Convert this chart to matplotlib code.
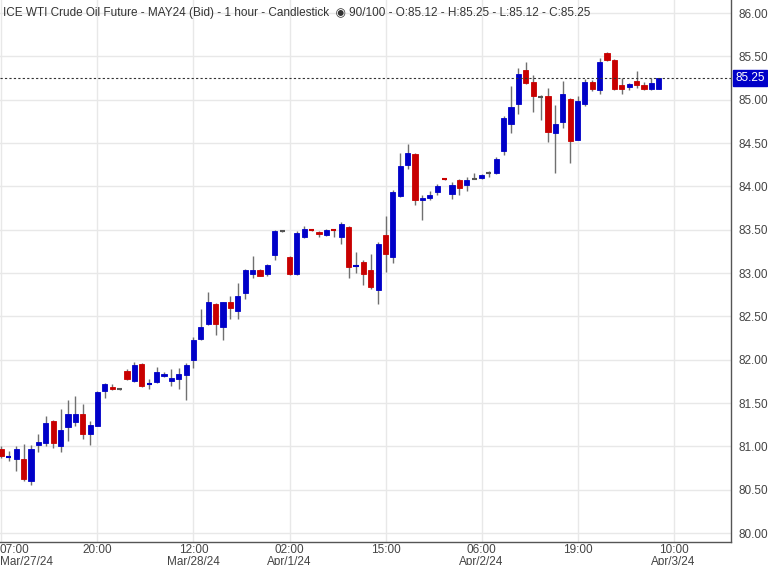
import matplotlib
matplotlib.use("Agg")
import matplotlib.pyplot as plt

plt.rcParams['font.family'] = ['Liberation Sans', 'DejaVu Sans']

opens = [80.97,80.87,80.86,80.86,80.60,81.02,81.04,81.29,81.00,81.22,81.28,81.37,81.14,81.24,81.64,81.69,81.66,81.87,81.75,81.95,81.72,81.74,81.81,81.75,81.78,81.82,82.00,82.24,82.41,82.64,82.38,82.67,82.56,82.77,82.99,83.03,82.99,83.21,83.48,83.19,82.99,83.42,83.50,83.47,83.44,83.50,83.42,83.53,83.08,83.13,83.04,82.80,83.44,83.19,83.89,84.25,84.37,83.84,83.86,83.93,84.09,83.91,84.07,84.01,84.09,84.10,84.15,84.15,84.41,84.72,84.95,85.34,85.20,85.03,85.04,84.62,84.74,85.01,84.54,84.95,85.20,85.11,85.54,85.46,85.17,85.15,85.21,85.17,85.12,85.12]
highs = [81.00,80.95,81.00,81.03,81.02,81.14,81.35,81.31,81.43,81.54,81.58,81.49,81.29,81.64,81.73,81.72,81.67,81.89,81.97,81.96,81.78,81.92,81.86,81.89,81.90,81.96,82.26,82.59,82.78,82.65,82.67,82.73,82.89,83.05,83.20,83.05,83.10,83.50,83.49,83.20,83.48,83.54,83.51,83.48,83.51,83.51,83.59,83.54,83.24,83.15,83.22,83.36,83.66,83.96,84.38,84.49,84.38,83.90,83.95,84.03,84.10,84.05,84.08,84.11,84.15,84.14,84.18,84.34,84.81,85.16,85.37,85.44,85.28,85.05,85.14,84.94,85.22,85.02,85.04,85.24,85.23,85.48,85.55,85.47,85.25,85.19,85.33,85.20,85.25,85.25]
lows = [80.87,80.83,80.72,80.60,80.55,80.94,81.01,80.98,80.94,81.06,81.24,81.09,81.02,81.24,81.56,81.65,81.65,81.77,81.74,81.69,81.66,81.73,81.80,81.70,81.66,81.54,81.90,82.23,82.40,82.28,82.23,82.47,82.47,82.70,82.94,82.96,82.96,83.15,83.47,82.98,82.98,83.40,83.48,83.41,83.43,83.41,83.33,82.94,83.00,82.86,82.82,82.64,83.01,83.12,83.88,84.20,83.79,83.61,83.84,83.90,84.07,83.85,83.90,83.95,84.08,84.08,84.11,84.14,84.36,84.62,84.84,85.18,84.86,84.76,84.51,84.15,84.67,84.27,84.53,84.93,85.10,85.07,85.45,85.11,85.07,85.11,85.14,85.11,85.11,85.12]
closes = [80.89,80.88,80.97,80.62,80.97,81.05,81.27,81.04,81.19,81.37,81.37,81.14,81.25,81.63,81.72,81.66,81.66,81.78,81.94,81.70,81.73,81.86,81.83,81.79,81.84,81.94,82.23,82.38,82.67,82.41,82.66,82.60,82.74,83.04,83.04,82.97,83.09,83.48,83.48,82.99,83.46,83.51,83.49,83.45,83.50,83.49,83.57,83.07,83.09,82.99,82.84,83.34,83.22,83.94,84.23,84.38,83.84,83.86,83.90,84.00,84.08,84.01,83.98,84.07,84.09,84.13,84.15,84.32,84.79,84.91,85.30,85.19,85.04,85.03,84.63,84.72,85.06,84.52,84.99,85.20,85.12,85.44,85.46,85.12,85.12,85.18,85.17,85.12,85.19,85.25]

tick_pos = [0, 13, 26, 39, 52, 65, 78, 91]
tick_labels = ["07:00\nMar/27/24", "20:00", "12:00\nMar/28/24", "02:00\nApr/1/24",
               "15:00", "06:00\nApr/2/24", "19:00", "10:00\nApr/3/24"]
y_ticks = [80.0, 80.5, 81.0, 81.5, 82.0, 82.5, 83.0, 83.5, 84.0, 84.5, 85.0, 85.5, 86.0]
last_price = 85.25

BLUE = "#0000c8"
RED = "#c80000"

fig = plt.figure(figsize=(7.68, 5.65), dpi=100)
ax = fig.add_axes([0.0, 0.0412, 0.952, 0.9588])

for i, (o, h, l, c) in enumerate(zip(opens, highs, lows, closes)):
    col = BLUE if c >= o else RED
    ax.vlines(i, l, h, color="#707070", lw=1.0, zorder=2)
    lo, hi = min(o, c), max(o, c)
    if hi - lo < 0.012:
        ax.hlines((o + c) / 2, i - 0.35, i + 0.35, color=col if hi - lo > 0 else "#555555", lw=1.5, zorder=3)
    else:
        ax.bar(i, hi - lo, bottom=lo, width=0.7, color=col, edgecolor=col, lw=0.6, zorder=3)

ax.set_xlim(-0.2, 98.8)
ax.set_ylim(79.90, 86.15)
ax.set_xticks(tick_pos)
ax.set_xticklabels([""] * len(tick_pos))
xt = ax.get_xaxis_transform()
for p, lab in zip(tick_pos, tick_labels):
    if p == 0:
        ax.text(0.0, -0.005, lab, transform=ax.transAxes, ha="left", va="top",
                fontsize=8.5, color="#444444", linespacing=0.95, clip_on=False)
    else:
        ax.text(p, -0.005, lab, transform=xt, ha="center", va="top", fontsize=8.5,
                color="#444444", linespacing=0.95, clip_on=False)
ax.yaxis.tick_right()
ax.set_yticks(y_ticks)
ax.set_yticklabels([f"{v:.2f}" for v in y_ticks])
ax.tick_params(axis="y", length=0, labelsize=8.5, labelcolor="#444444", pad=5)
ax.tick_params(axis="x", length=0)
ax.grid(True, color="#e8e8e8", lw=1.0, zorder=0)
ax.set_axisbelow(True)
for s in ["top", "left"]:
    ax.spines[s].set_visible(False)
for s in ["right", "bottom"]:
    ax.spines[s].set_color("#555555")
    ax.spines[s].set_linewidth(1.0)

ax.axhline(last_price, color="#333333", lw=0.8, ls=(0, (2, 2)), zorder=4)
ax.text(1.006, last_price, f"{last_price:.2f}", transform=ax.get_yaxis_transform(),
        ha="left", va="center", fontsize=8.5, color="white", zorder=5, clip_on=False,
        bbox=dict(boxstyle="square,pad=0.2", fc=BLUE, ec=BLUE))

ax.text(0.004, 0.988, "ICE WTI Crude Oil Future - MAY24 (Bid) - 1 hour - Candlestick  \u25c9 90/100 - O:85.12 - H:85.25 - L:85.12 - C:85.25",
        transform=ax.transAxes, ha="left", va="top", fontsize=8.5, color="#333333",
        family=['Liberation Sans', 'DejaVu Sans'])

fig.savefig("out.png", dpi=100)
